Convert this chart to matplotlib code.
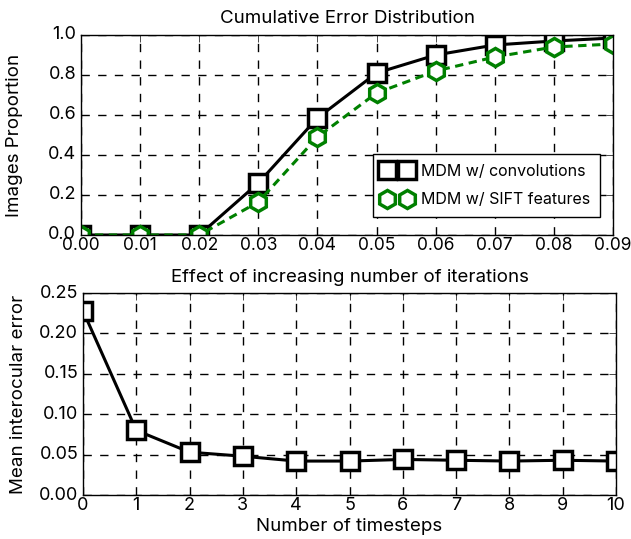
import matplotlib
matplotlib.use("Agg")
import matplotlib.pyplot as plt
import numpy as np

# Top chart data
err_thresholds = [0.00, 0.01, 0.02, 0.03, 0.04, 0.05, 0.06, 0.07, 0.08, 0.09]
conv_prop = [0.0, 0.0, 0.0, 0.26, 0.585, 0.81, 0.90, 0.95, 0.97, 0.985]
sift_prop = [0.0, 0.0, 0.0, 0.165, 0.49, 0.71, 0.82, 0.89, 0.94, 0.955]
series_labels = ["MDM w/ convolutions", "MDM w/ SIFT features"]

# Bottom chart data
timesteps = [0, 1, 2, 3, 4, 5, 6, 7, 8, 9, 10]
mean_err = [0.228, 0.080, 0.053, 0.048, 0.042, 0.042, 0.044, 0.043, 0.042, 0.043, 0.042]

top_xticks = [0.00, 0.01, 0.02, 0.03, 0.04, 0.05, 0.06, 0.07, 0.08, 0.09]
top_yticks = [0.0, 0.2, 0.4, 0.6, 0.8, 1.0]
bot_xticks = list(range(0, 11))
bot_yticks = [0.00, 0.05, 0.10, 0.15, 0.20, 0.25]

plt.style.use("classic")
plt.rcParams["font.family"] = ["Inter", "DejaVu Sans"]
plt.rcParams["figure.facecolor"] = "white"

W, H = 631, 539
fig = plt.figure(figsize=(W / 100, H / 100), dpi=100)

def box(l, r, t, b):
    return [l / W, 1 - b / H, (r - l) / W, (b - t) / H]

ax1 = fig.add_axes(box(81, 613, 35, 235))
ax2 = fig.add_axes(box(83, 616, 293, 495))

grid_kw = dict(color="black", linestyle="--", linewidth=1.0, dashes=(6, 6))

# Top
ax1.plot(err_thresholds, conv_prop, color="black", linestyle="-", linewidth=2.2,
         marker="s", markersize=13, markerfacecolor="white", markeredgecolor="black",
         markeredgewidth=2.5, label=series_labels[0])
ax1.plot(err_thresholds, sift_prop, color="green", linestyle="--", linewidth=2.2,
         dashes=(6, 4), marker="h", markersize=13, markerfacecolor="white",
         markeredgecolor="green", markeredgewidth=2.5, label=series_labels[1])
ax1.set_xlim(0, 0.09)
ax1.set_ylim(0, 1.0)
ax1.set_xticks(top_xticks)
ax1.set_xticklabels(["%.2f" % v for v in top_xticks])
ax1.set_yticks(top_yticks)
ax1.set_yticklabels(["%.1f" % v for v in top_yticks])
ax1.grid(True, **grid_kw)
ax1.set_axisbelow(True)
ax1.set_title("Cumulative Error Distribution", fontsize=13.5, pad=8.5)
ax1.set_ylabel("Images Proportion", fontsize=13.5)
ax1.yaxis.set_label_coords(-0.109, 0.5)
ax1.tick_params(labelsize=13, direction="in", length=5)
ax1.tick_params(axis="x", pad=1.5, labelsize=12.5)
ax1.tick_params(axis="y", pad=3.5)
leg = ax1.legend(loc="lower right", bbox_to_anchor=(0.9756, 0.09), numpoints=2,
                 fontsize=11.5, fancybox=False, frameon=True, handlelength=1.85,
                 handletextpad=0.6, borderpad=0.6, labelspacing=0.85,
                 borderaxespad=0.0)
leg.get_frame().set_edgecolor("black")
leg.get_frame().set_linewidth(1.0)

# Bottom
ax2.plot(timesteps, mean_err, color="black", linestyle="-", linewidth=2.2,
         marker="s", markersize=13, markerfacecolor="white", markeredgecolor="black",
         markeredgewidth=2.5)
ax2.set_xlim(0, 10)
ax2.set_ylim(0, 0.25)
ax2.set_xticks(bot_xticks)
ax2.set_yticks(bot_yticks)
ax2.set_yticklabels(["%.2f" % v for v in bot_yticks])
ax2.grid(True, **grid_kw)
ax2.set_axisbelow(True)
ax2.set_title("Effect of increasing number of iterations", fontsize=13.5, pad=8)
ax2.set_ylabel("Mean interocular error", fontsize=13.5)
ax2.yaxis.set_label_coords(-0.105, 0.5)
ax2.set_xlabel("Number of timesteps", fontsize=13.5, labelpad=3)
ax2.tick_params(labelsize=13, direction="in", length=5)
ax2.tick_params(axis="x", pad=1.5)
ax2.tick_params(axis="y", pad=3.5)

fig.savefig("out.png", dpi=100, facecolor="white")
